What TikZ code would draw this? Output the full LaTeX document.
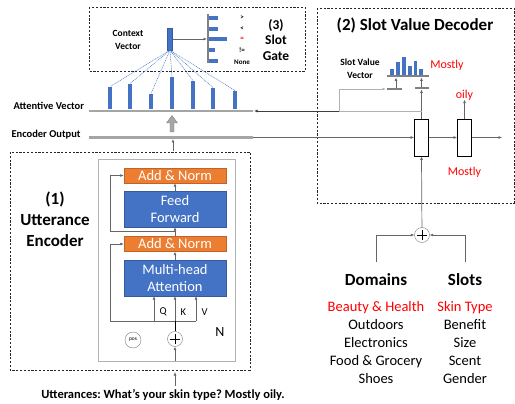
\documentclass[tikz,border=0pt]{standalone}
\usepackage{fontspec}
\setmainfont{Carlito}
\usetikzlibrary{arrows.meta,positioning}
\definecolor{barblue}{HTML}{4472C4}
\definecolor{normorange}{HTML}{ED7D31}
\definecolor{railgray}{HTML}{A5A5A5}
\definecolor{hotred}{HTML}{FF0000}
\newcommand{\fs}[2]{\fontsize{#1}{#2}\selectfont}
\frenchspacing

\tikzset{
  dashbox/.style={draw=black!85,line width=0.8pt,dash pattern=on 2.2pt off 1.6pt},
  normbox/.style={draw=normorange!80!black,fill=normorange,text=white,minimum width=102,minimum height=15,inner sep=0pt,font=\fs{14.5}{15}},
  layerbox/.style={draw=barblue!80!black,fill=barblue,text=white,minimum width=102,minimum height=36,inner sep=0pt,align=center,font=\fs{14.5}{17}},
  cellbox/.style={draw=black,line width=0.8pt,fill=white,minimum width=14,minimum height=37,inner sep=0pt},
  rail/.style={railgray,line width=2.6pt},
  shortrail/.style={gray,line width=2.6pt},
  conn/.style={gray!80!black,line width=0.7pt},
  plusnode/.style={circle,draw=gray,fill=white,minimum size=15,inner sep=0pt,
    path picture={\draw[black,line width=0.6pt]
      ([xshift=-5pt]path picture bounding box.center) -- ([xshift=5pt]path picture bounding box.center)
      ([yshift=-5pt]path picture bounding box.center) -- ([yshift=5pt]path picture bounding box.center);}},
  lbl/.style={font=\bfseries\fs{9.5}{13},align=center},
  redtxt/.style={text=hotred,font=\fs{12}{14}},
}

\begin{document}
\begin{tikzpicture}[x=1pt,y=-1pt,>={Latex[length=3.5pt,width=3pt]}]
\useasboundingbox (0,0) rectangle (515,404);

% (1) utterance encoder
\draw[dashbox] (10,152) rectangle (250,370);
\draw[gray!60,line width=1pt] (98,160) rectangle (235,361);
\node[font=\bfseries\fs{17}{21},align=center] (enctitle) at (55,219) {(1)\\Utterance\\Encoder};
\node[normbox] (an1) at (175,175.5) {Add \& Norm};
\node[layerbox] (ff) at (175,209) {Feed\\Forward};
\node[normbox] (an2) at (175,244) {Add \& Norm};
\node[layerbox] (mha) at (175,278) {Multi-head\\Attention};
\node[plusnode] (plusenc) at (175,339) {};
\node[circle,draw=gray,minimum size=16,inner sep=0pt,font=\fs{5.5}{6}] (pos) at (133,340) {pos};
\node[font=\fs{14}{16}] (nlayers) at (220,332) {N};
\draw[conn,->] (mha) -- (an2);
\draw[conn,->] (an2) -- (ff);
\draw[conn,->] (ff) -- (an1);
\coordinate (res1) at (175,231.5);
\coordinate (qkv) at (175,321);
\draw[conn,->] (res1) -- (110,231.5) |- (an1.west);
\draw[conn,->] ([xshift=21pt]qkv) -- (110,321) |- (an2.west);
\draw[conn,->] ([xshift=-21pt]qkv) -- ([xshift=-21pt]mha.south);
\draw[conn,->] (qkv) -- (mha.south);
\draw[conn,->] ([xshift=21pt]qkv) -- ([xshift=21pt]mha.south);
\draw[black,line width=1pt] (plusenc) -- (qkv);
\node[font=\fs{10.5}{12},anchor=west] at (156,312) {Q};
\node[font=\fs{10.5}{12},anchor=west] at (177,312) {K};
\node[font=\fs{10.5}{12},anchor=west] at (198,312) {V};
\coordinate (innerbot) at (175,361);
\draw[conn,->] (innerbot) -- (plusenc);
\node[font=\bfseries\fs{12.5}{14}] (utt) at (163,395) {Utterances: What’s your skin type? Mostly oily.};
\draw[conn,->] (175,386) -- (175,372);

% encoder output and attentive vector
\node[lbl,font=\bfseries\fs{10.5}{13},anchor=west] (encout) at (8,135) {Encoder Output};
\node[lbl,font=\bfseries\fs{10.5}{13},anchor=west] (attvec) at (10,106) {Attentive Vector};
\draw[rail] (89,137.5) -- (253,137.5);
\draw[rail] (89,111) -- (253,111);
\draw[conn,->] (173,151) -- (173,139);
\draw[fill=gray!70,draw=gray] (170,132) -- (174,132) -- (174,123) -- (177.5,123) -- (172,115.5) -- (166.5,123) -- (170,123) -- cycle;

% (3) slot gate
\draw[dashbox] (89,7) rectangle (305,71);
\node[lbl,font=\bfseries\fs{9.5}{13}] (ctxlbl) at (128,40) {Context\\Vector};
\node[fill=barblue,draw=barblue!80!black,minimum width=5,minimum height=22,inner sep=0pt] (ctx) at (170,39) {};
\foreach \x/\t [count=\i] in {110/87,130/84,151/94,172/77,193/81,213/88,235/91}{
  \node[fill=barblue,minimum width=4,minimum height=109-\t,inner sep=0pt,anchor=south] (att\i) at (\x,109) {};
  \draw[barblue,line width=0.5pt,dash pattern=on 1pt off 0.8pt] (ctx.south) -- (att\i.north);
}
\draw[gray,line width=2.4pt] (208,14) -- (208,63);
\coordinate (gateaxis) at (207,39);
\draw[conn,->] (ctx.east) -- (gateaxis);
\foreach \y/\l/\c in {18/9/black,29/9/black,39/18/black,50/6/black,61/9/black}{
  \fill[barblue] (209,\y-1.8) rectangle (209+\l,\y+1.8);
}
\foreach \y/\s/\c in {18/{>}/black,29/{<}/black,39/{=}/hotred,50/{!=}/black,62/{None}/black}{
  \node[font=\bfseries\fs{7}{8},text=\c] at (242,\y) {\s};
}
\node[font=\bfseries\fs{13.5}{15.5},align=center] (gatetitle) at (276,40) {(3)\\Slot\\Gate};

% (2) slot value decoder
\draw[dashbox] (317,8) rectangle (514,203);
\node[font=\bfseries\fs{17}{20}] (dectitle) at (415,25) {(2) Slot Value Decoder};
\node[lbl,font=\bfseries\fs{9.5}{13}] (svlbl) at (360,69) {Slot Value\\Vector};
\node[cellbox] (cell1) at (421.5,137.5) {};
\node[cellbox] (cell2) at (464.5,137.5) {};
\coordinate (decout) at (502,137.5);
\draw[conn,->] (253,137.5) -- (cell1.west);
\draw[conn,->] (cell1) -- (cell2);
\draw[conn,->] (cell2) -- (decout);
\node[redtxt] (oily) at (464.5,95) {oily};
\draw[conn,->] (cell2.north) -- ([yshift=4pt]oily.south);
\node[redtxt] (mostly2) at (464.5,172) {Mostly};
% slot value vector
\draw[shortrail] (387,89) -- (402,89);
\draw[shortrail] (415,88) -- (429,88);
\draw[shortrail] (387,76) -- (429,76);
\draw[conn,->] (cell1.north) -- (421.5,89.5);
\draw[conn,->] (396,88) -- (396,77.5);
\draw[conn,->] (421.5,87) -- (421.5,77.5);
\draw[conn,gray!60] (421.5,111) -- (339,111);
\draw[black!75,line width=0.7pt,->] (339,111) -- (254,111);
\draw[conn,gray!60,->] (339,111) |- (386,89);
\foreach \x/\t in {392/69,398/62,404/57,410/66,415.5/61,421/69}{
  \fill[barblue] (\x-1.8,\t) rectangle (\x+1.8,75);
}
\node[redtxt] (mostly1) at (447,65) {Mostly};

% domains and slots
\node[plusnode] (plusdec) at (422,235) {};
\draw[conn,->] (plusdec) -- (cell1.south);
\node[font=\bfseries\fs{17}{20}] (domains) at (376,280) {Domains};
\node[font=\bfseries\fs{17}{20}] (slots) at (465,280) {Slots};
\draw[conn,->] ([yshift=8pt]domains.north) |- (plusdec.west);
\draw[conn,->] ([yshift=8pt]slots.north) |- (plusdec.east);
\node[font=\fs{14.5}{18},align=center,anchor=north] (domlist) at (376,298) {\textcolor{hotred}{Beauty \& Health}\\Outdoors\\Electronics\\Food \& Grocery\\Shoes};
\node[font=\fs{14.5}{18},align=center,anchor=north] (slotlist) at (465,298) {\textcolor{hotred}{Skin Type}\\Benefit\\Size\\Scent\\Gender};
\end{tikzpicture}
\end{document}
